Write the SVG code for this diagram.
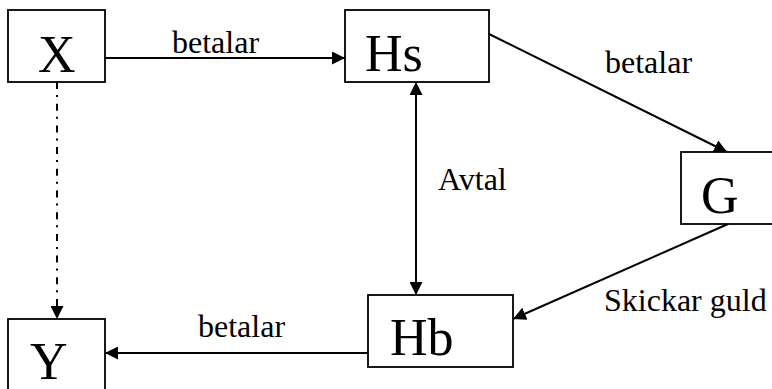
<svg xmlns="http://www.w3.org/2000/svg" width="772" height="389" viewBox="0 0 772 389">
<style>
.box{fill:#fff;stroke:#000;stroke-width:1.8}
.big{font-family:'Liberation Serif','Times New Roman',serif;font-size:52px;fill:#000}
.lbl{font-family:'Liberation Serif','Times New Roman',serif;font-size:32px;fill:#000}
.ln{stroke:#000;stroke-width:2;fill:none}
</style>
<defs>
<marker id="ah" viewBox="0 0 13 13" refX="13" refY="6.5" markerWidth="13" markerHeight="13" markerUnits="userSpaceOnUse" orient="auto-start-reverse">
<path d="M0,0 L13,6.5 L0,13 Z" fill="#000"/>
</marker>
</defs>
<rect width="772" height="389" fill="#fff"/>
<g id="connectors">
<line class="ln" x1="105" y1="58" x2="345" y2="58" marker-end="url(#ah)"/>
<line class="ln" x1="489" y1="34" x2="727" y2="152" marker-end="url(#ah)"/>
<line class="ln" x1="416" y1="82" x2="416" y2="295" marker-start="url(#ah)" marker-end="url(#ah)"/>
<line class="ln" x1="728" y1="224" x2="513" y2="319" marker-end="url(#ah)"/>
<line class="ln" x1="368" y1="353" x2="105" y2="353" marker-end="url(#ah)"/>
<line class="ln" x1="57" y1="82" x2="57" y2="319" stroke-dasharray="7 6 2 6.7" marker-end="url(#ah)"/>
<text class="lbl" x="172" y="53">betalar</text>
<text class="lbl" x="605" y="73">betalar</text>
<text class="lbl" x="438" y="190">Avtal</text>
<text class="lbl" x="604" y="311">Skickar guld</text>
<text class="lbl" x="198" y="337">betalar</text>
</g>
<g id="X"><rect class="box" x="8" y="10" width="97" height="72"/><text class="big" x="38" y="72">X</text></g>
<g id="Hs"><rect class="box" x="345" y="10" width="144" height="72"/><text class="big" x="365" y="71">Hs</text></g>
<g id="G"><rect class="box" x="681" y="152" width="110" height="72"/><text class="big" x="701" y="213">G</text></g>
<g id="Hb"><rect class="box" x="368" y="295" width="145" height="72"/><text class="big" x="390" y="355">Hb</text></g>
<g id="Y"><rect class="box" x="8" y="319" width="97" height="90"/><text class="big" x="30" y="379">Y</text></g>
</svg>
